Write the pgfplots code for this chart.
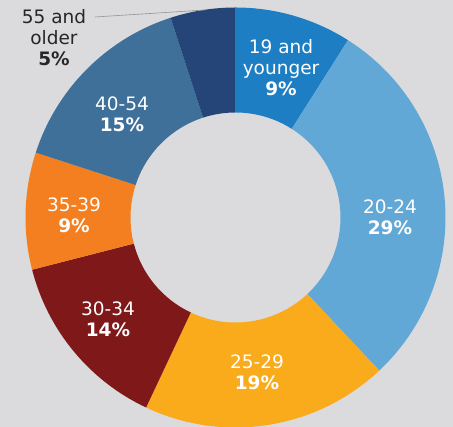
\documentclass[border=0pt]{standalone}
\usepackage{pgfplots}
\pgfplotsset{compat=1.18}
\usepackage{pgfplotstable}
\usepackage{fontspec}
\setmainfont{DejaVu Sans}
\definecolor{bg}{HTML}{DBDBDD}
\definecolor{c1}{HTML}{1E7EC3}
\definecolor{c2}{HTML}{62A8D7}
\definecolor{c3}{HTML}{FAAB1C}
\definecolor{c4}{HTML}{7F1919}
\definecolor{c5}{HTML}{F47F21}
\definecolor{c6}{HTML}{3E7099}
\definecolor{c7}{HTML}{254579}
\pgfplotstableread[col sep=comma]{
value,color
9,c1
29,c2
19,c3
14,c4
9,c5
15,c6
5,c7
}\agedata
\newcommand\lbl{\fontsize{18.5}{21}\selectfont}
\begin{document}
\begin{tikzpicture}
\useasboundingbox (0,0) rectangle (453pt,427pt);
\clip (0,0) rectangle (453pt,427pt);
\begin{axis}[x=1pt,y=1pt,xmin=0,xmax=453,ymin=0,ymax=427,hide axis,
  anchor=south west, at={(0,0)}, clip=false]
\fill[bg] (axis cs:0,0) rectangle (axis cs:453,427);
\gdef\cum{0}
\pgfplotsinvokeforeach{0,...,6}{
  \pgfplotstablegetelem{#1}{value}\of\agedata
  \let\val\pgfplotsretval
  \pgfplotstablegetelem{#1}{color}\of\agedata
  \let\col\pgfplotsretval
  \pgfmathsetmacro\sA{90-3.6*\cum}
  \pgfmathsetmacro\eA{90-3.6*(\cum+\val)}
  \pgfmathsetmacro\newcum{\cum+\val}
  \global\let\cum\newcum
  \edef\temp{\noexpand\fill[\col] ([shift={(\sA:210pt)}]axis cs:235.5,209.5) arc[start angle=\sA, end angle=\eA, radius=210pt] -- ([shift={(\eA:105pt)}]axis cs:235.5,209.5) arc[start angle=\eA, end angle=\sA, radius=105pt] -- cycle;}
  \temp
}
\draw[gray!85, line width=0.6pt] (axis cs:95,410) -- (axis cs:205,417);
\node[white, align=center, font=\lbl, inner sep=0pt] at (axis cs:281,359) {19 and\\younger\\\textbf{9\%}};
\node[white, align=center, font=\lbl, inner sep=0pt] at (axis cs:390,210) {20-24\\\textbf{29\%}};
\node[white, align=center, font=\lbl, inner sep=0pt] at (axis cs:257,54.5) {25-29\\\textbf{19\%}};
\node[white, align=center, font=\lbl, inner sep=0pt] at (axis cs:108,107.5) {30-34\\\textbf{14\%}};
\node[white, align=center, font=\lbl, inner sep=0pt] at (axis cs:74,211.5) {35-39\\\textbf{9\%}};
\node[white, align=center, font=\lbl, inner sep=0pt] at (axis cs:122,313) {40-54\\\textbf{15\%}};
\node[black!85, align=center, font=\lbl, inner sep=0pt] at (axis cs:54,389.5) {55 and\\older\\\textbf{5\%}};
\end{axis}
\end{tikzpicture}
\end{document}
